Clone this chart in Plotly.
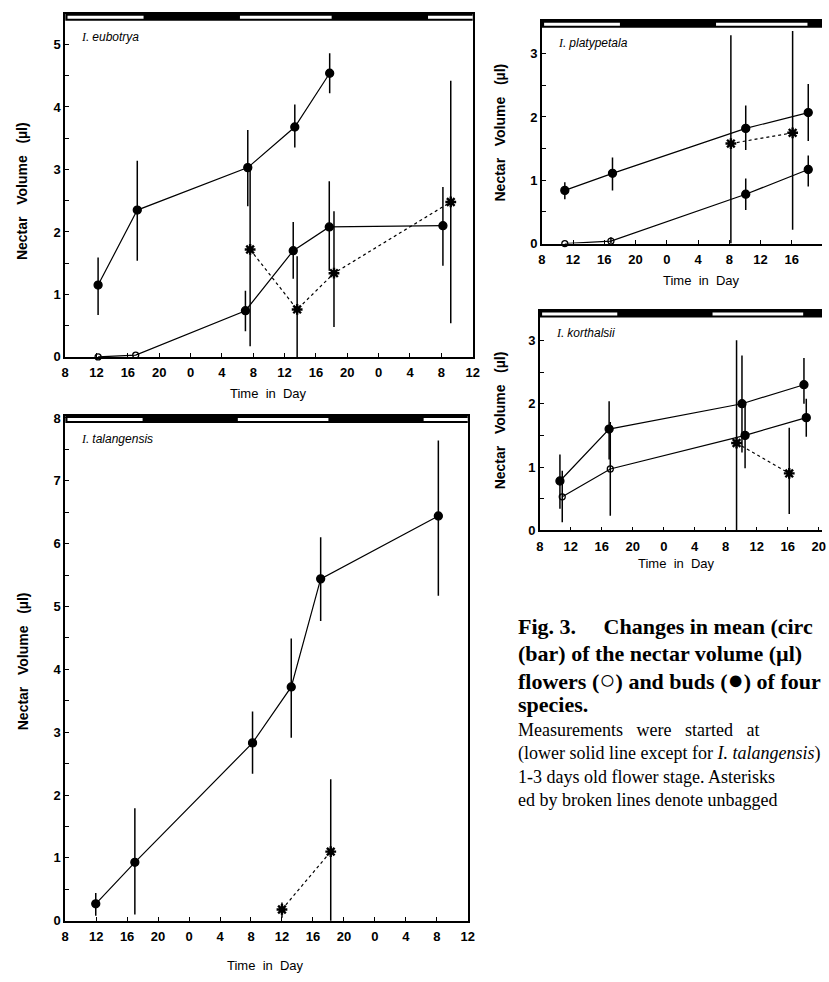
import plotly.graph_objects as go

W, H = 829, 982

# ---------------- data (hours counted from 0:00 of day 1) ----------------
tick_hours = [8, 12, 16, 20, 24, 28, 32, 36, 40, 44, 48, 52, 56, 60]
tick_labels = ["8", "12", "16", "20", "0", "4", "8", "12", "16", "20", "0", "4", "8", "12"]
night_start = [18, 42]
night_end = [30, 54]

# I. eubotrya
eub_bud_x = [12.2, 17.2, 31.3, 37.3, 41.75]
eub_bud_y = [1.15, 2.35, 3.03, 3.68, 4.54]
eub_bud_hi = [0.44, 0.79, 0.60, 0.36, 0.32]
eub_bud_lo = [0.48, 0.81, 0.62, 0.33, 0.32]
eub_flw_x = [12.2, 17.0, 31.0, 37.1, 41.7, 56.2]
eub_flw_y = [0.0, 0.03, 0.74, 1.70, 2.08, 2.10]
eub_flw_hi = [0, 0, 0.32, 0.46, 0.73, 0.62]
eub_flw_lo = [0, 0, 0.33, 0.45, 0.70, 0.64]
eub_flw_open = [True, True, False, False, False, False]
eub_unb_x = [31.6, 37.6, 42.3, 57.2]
eub_unb_y = [1.72, 0.76, 1.34, 2.48]
eub_unb_hi = [1.26, 0.85, 0.99, 1.94]
eub_unb_lo = [1.55, 0.96, 0.86, 1.94]

# I. talangensis
tal_x = [11.95, 17.0, 32.2, 37.2, 41.0, 56.2]
tal_y = [0.27, 0.93, 2.83, 3.72, 5.44, 6.44]
tal_hi = [0.17, 0.86, 0.50, 0.77, 0.66, 1.20]
tal_lo = [0.19, 0.83, 0.49, 0.81, 0.67, 1.27]
tal_unb_x = [36.0, 42.3]
tal_unb_y = [0.18, 1.10]
tal_unb_hi = [0.11, 1.15]
tal_unb_lo = [0.13, 1.18]

# I. platypetala
pla_bud_x = [10.95, 17.05, 34.1, 42.1]
pla_bud_y = [0.84, 1.11, 1.82, 2.07]
pla_bud_hi = [0.13, 0.25, 0.36, 0.45]
pla_bud_lo = [0.14, 0.27, 0.34, 0.45]
pla_flw_x = [10.95, 16.85, 34.1, 42.1]
pla_flw_y = [0.0, 0.04, 0.78, 1.17]
pla_flw_hi = [0, 0.06, 0.25, 0.22]
pla_flw_lo = [0, 0.04, 0.25, 0.27]
pla_flw_open = [True, True, False, False]
pla_unb_x = [32.2, 40.1]
pla_unb_y = [1.58, 1.75]
pla_unb_hi = [1.71, 1.61]
pla_unb_lo = [1.58, 1.53]

# I. korthalsii
kor_bud_x = [10.6, 16.95, 34.1, 42.1]
kor_bud_y = [0.78, 1.60, 2.00, 2.30]
kor_bud_hi = [0.42, 0.44, 0.76, 0.42]
kor_bud_lo = [0.44, 0.48, 0.77, 0.30]
kor_flw_x = [10.9, 17.1, 34.5, 42.4]
kor_flw_y = [0.53, 0.97, 1.50, 1.78]
kor_flw_hi = [0.41, 0.74, 0.50, 0.30]
kor_flw_lo = [0.40, 0.74, 0.52, 0.30]
kor_flw_open = [True, True, False, False]
kor_unb_x = [33.4, 40.2]
kor_unb_y = [1.38, 0.90]
kor_unb_hi = [1.62, 0.72]
kor_unb_lo = [1.48, 0.64]

NB = "\u00a0"
BIG = "<span style='font-size:27px'>"
caption_bold = [
    "Fig. 3." + NB * 4 + " Changes in mean (circ",
    "(bar) of the nectar volume (\u00b5l)",
    "flowers (" + BIG + "\u25cb</span>) and buds (" + BIG + "\u25cf</span>) of four",
    "species.",
]
caption_regular = [
    "Measurements" + NB * 3 + "were" + NB * 3 + "started" + NB * 3 + "at",
    "(lower solid line except for <i>I. talangensis</i>)",
    "1-3 days old flower stage. Asterisks",
    "ed by broken lines denote unbagged",
]

# ---------------- layout geometry (pixels) ----------------
panels = [
    dict(l=62, r=475, t=8, b=356, ytop=5.49, xr=60, ymax=5, label="eubotrya", right=True),
    dict(l=545, r=829, t=15, b=241, ytop=3.52, xr=43.86, ymax=3, label="platypetala", right=False),
    dict(l=62, r=470, t=416, b=928, ytop=8.03, xr=60, ymax=8, label="talangensis", right=True),
    dict(l=543, r=829, t=309, b=532, ytop=3.47, xr=44.43, ymax=3, label="korthalsii", right=False),
]

fig = go.Figure()
FONT = "Liberation Sans, Arial, sans-serif"
SERIF = "Liberation Serif, Times New Roman, serif"


def px(x):
    return x / W


def py(y):
    return 1 - y / H


def add_series(idx, xs, ys, hi, lo, dash=False, symbols=None, star=False):
    ax = "" if idx == 1 else str(idx)
    if star:
        marker = dict(symbol="asterisk-open", size=9, color="#000000", opacity=1,
                      line=dict(color="#000000", width=2.4))
    else:
        if symbols is None:
            symbols = ["circle"] * len(xs)
        sizes = [6 if s == "circle-open" else 8 for s in symbols]
        marker = dict(symbol=symbols, size=sizes, color="#000000", opacity=1,
                      line=dict(color="#000000", width=1.3))
    fig.add_trace(go.Scatter(
        x=xs, y=ys, mode="lines+markers",
        line=dict(color="#000000", width=1.2, dash="3px,3px" if dash else "solid"),
        marker=marker,
        error_y=dict(type="data", symmetric=False, array=hi, arrayminus=lo,
                     color="#000000", thickness=1.5, width=0),
        xaxis="x" + ax, yaxis="y" + ax, cliponaxis=False, showlegend=False,
    ))


def sym(open_flags):
    return ["circle-open" if o else "circle" for o in open_flags]


add_series(1, eub_bud_x, eub_bud_y, eub_bud_hi, eub_bud_lo)
add_series(1, eub_flw_x, eub_flw_y, eub_flw_hi, eub_flw_lo, symbols=sym(eub_flw_open))
add_series(1, eub_unb_x, eub_unb_y, eub_unb_hi, eub_unb_lo, dash=True, star=True)

add_series(2, pla_bud_x, pla_bud_y, pla_bud_hi, pla_bud_lo)
add_series(2, pla_flw_x, pla_flw_y, pla_flw_hi, pla_flw_lo, symbols=sym(pla_flw_open))
add_series(2, pla_unb_x, pla_unb_y, pla_unb_hi, pla_unb_lo, dash=True, star=True)

add_series(3, tal_x, tal_y, tal_hi, tal_lo)
add_series(3, tal_unb_x, tal_unb_y, tal_unb_hi, tal_unb_lo, dash=True, star=True)

add_series(4, kor_bud_x, kor_bud_y, kor_bud_hi, kor_bud_lo)
add_series(4, kor_flw_x, kor_flw_y, kor_flw_hi, kor_flw_lo, symbols=sym(kor_flw_open))
add_series(4, kor_unb_x, kor_unb_y, kor_unb_hi, kor_unb_lo, dash=True, star=True)

layout = dict(width=W, height=H, margin=dict(l=0, r=0, t=0, b=0),
              paper_bgcolor="white", plot_bgcolor="white", showlegend=False)

shapes = []
annotations = []
for i, p in enumerate(panels, start=1):
    ax = "" if i == 1 else str(i)
    yvals = [k * 0.5 for k in range(0, 2 * p["ymax"] + 1)]
    ytext = [str(int(v)) if v == int(v) else "" for v in yvals]
    layout["xaxis" + ax] = dict(
        domain=[px(p["l"]), px(p["r"])], range=[8, p["xr"]], anchor="y" + ax,
        tickvals=tick_hours, ticktext=tick_labels, ticks="inside", ticklen=4, tickwidth=1.3,
        tickcolor="black", showline=True, linecolor="black", linewidth=1.6,
        mirror=True, showgrid=False, zeroline=False, ticklabelstandoff=3,
        tickfont=dict(family=FONT, size=13, color="black", weight="bold"),
    )
    layout["yaxis" + ax] = dict(
        domain=[py(p["b"]), py(p["t"])], range=[0, p["ytop"]], anchor="x" + ax,
        tickvals=yvals, ticktext=ytext, ticks="inside", ticklen=4, tickwidth=1.3,
        tickcolor="black", showline=True, linecolor="black", linewidth=1.6,
        mirror=p["right"], showgrid=False, zeroline=False,
        tickfont=dict(family=FONT, size=13, color="black", weight="bold"),
    )
    # day/night bar at the top of the frame
    span = p["b"] - p["t"]
    bar_h = 7 / span
    shapes.append(dict(type="rect", xref="x" + ax, yref="y" + ax + " domain",
                       x0=8, x1=p["xr"] + 5, y0=1 - bar_h, y1=1,
                       fillcolor="black", line=dict(width=0), layer="above"))
    day_edges = [8] + night_end
    day_ends = night_start + [66]
    for d0, d1 in zip(day_edges, day_ends):
        shapes.append(dict(type="rect", xref="x" + ax, yref="y" + ax + " domain",
                           x0=d0 + 0.3, x1=d1, y0=1 - bar_h + 2 / span, y1=1 - 2 / span,
                           fillcolor="white", line=dict(width=0), layer="above"))
    annotations.append(dict(
        xref="paper", yref="paper", x=px(p["l"] + 14), y=py(p["t"] + 23),
        xanchor="left", yanchor="middle", showarrow=False,
        text="<i><span style='font-family:Liberation Serif'>I.</span> " + p["label"] + "</i>",
        font=dict(family=FONT, size=12, color="black"),
    ))

# axis titles
ytitle_pos = [(19, 188), (503, 128), (19, 665), (503, 420)]
xtitle_pos = [(268, 393), (707, 278), (265, 973), (682, 566)]
for (x, y) in ytitle_pos:
    annotations.append(dict(xref="paper", yref="paper", x=px(x), y=py(y), textangle=-90,
                            xanchor="center", yanchor="middle", showarrow=False,
                            text="Nectar" + NB * 2 + " Volume" + NB * 2 + " (\u00b5l)",
                            font=dict(family=FONT, size=14, color="black", weight="bold")))
for (x, y) in xtitle_pos:
    annotations.append(dict(xref="paper", yref="paper", x=px(x), y=py(y),
                            xanchor="center", yanchor="middle", showarrow=False,
                            text="Time" + NB + " in" + NB + " Day",
                            font=dict(family=FONT, size=13, color="black")))

# caption
bold_y = [629, 657, 684, 709]
for t, y in zip(caption_bold, bold_y):
    annotations.append(dict(xref="paper", yref="paper", x=px(519), y=py(y),
                            xanchor="left", yanchor="middle", showarrow=False, text="<b>" + t + "</b>",
                            font=dict(family=SERIF, size=22, color="black")))
annotations.append(dict(xref="paper", yref="paper", x=px(519), y=py(722),
                        xanchor="left", yanchor="top", align="left", showarrow=False,
                        text="<br>".join(caption_regular),
                        font=dict(family=SERIF, size=18, color="black")))

layout["shapes"] = shapes
layout["annotations"] = annotations
fig.update_layout(**layout)
fig.write_html("out.html")
